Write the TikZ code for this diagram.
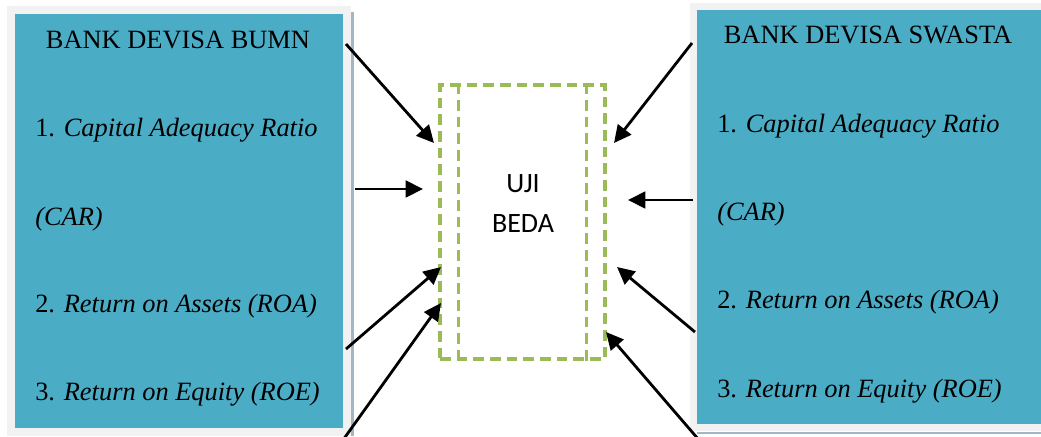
\documentclass[tikz,border=0pt]{standalone}
\usepackage{fontspec}
\setmainfont{Liberation Serif}
\newfontfamily\calibrifont{Carlito}
\usetikzlibrary{arrows.meta,positioning}
\definecolor{bankteal}{HTML}{4BACC6}
\definecolor{framegray}{HTML}{F2F2F2}
\definecolor{shadowblue}{HTML}{A3B7C2}
\definecolor{ujigreen}{HTML}{9BBB59}
\tikzset{
    %Define standard arrow tip
    >={Triangle[length=13pt,width=12.5pt]},
    %Define style for the bank boxes
    banknode/.style={
             rectangle,
             fill=bankteal,
             draw=framegray,
             inner sep=0pt},
    %Define style for the texts in the boxes
    titlenode/.style={
             anchor=base,
             inner sep=0pt,
             font=\fontsize{19.8}{24}\selectfont},
    itemnode/.style={
             anchor=base west,
             inner sep=0pt,
             font=\fontsize{19.8}{24}\selectfont},
    %Define style for the test box
    testline/.style={
             draw=ujigreen, line width=2.6pt,
             dash pattern=on 8pt off 4.5pt},
    testnode/.style={
             rectangle,
             testline,
             inner sep=0pt},
    % Define arrow style
    testarrow/.style={
            ->,
            line width=2.1pt}
}
\begin{document}
\begin{tikzpicture}[x=0.75pt,y=-0.75pt]
 \useasboundingbox (0,0) rectangle (1041,436);
 \fill[white] (0,0) rectangle (1041,436);
 % left box
 \node[banknode, line width=6pt, minimum width=252pt, minimum height=316.5pt] (bumn) at (179,221) {};
 \draw[shadowblue, line width=1.8pt] (352.5,12) -- (352.5,436);
 \node[titlenode] (bumntitle) at (178,48) {BANK DEVISA BUMN};
 \node[itemnode] (bumncar) at (35,136) {1. \textit{Capital Adequacy Ratio}};
 \node[itemnode] (bumncarb) at (35,225) {\textit{(CAR)}};
 \node[itemnode] (bumnroa) at (35,312) {2. \textit{Return on Assets (ROA)}};
 \node[itemnode] (bumnroe) at (35,400) {3. \textit{Return on Equity (ROE)}};
 % right box
 \node[banknode, line width=5.25pt, minimum width=266.25pt, minimum height=315.75pt] (swasta) at (871,217) {};
 \draw[shadowblue, line width=1.8pt] (697,433) -- (1045,433);
 \node[titlenode] (swastatitle) at (868,43) {BANK DEVISA SWASTA};
 \node[itemnode] (swastacar) at (717,132) {1. \textit{Capital Adequacy Ratio}};
 \node[itemnode] (swastacarb) at (717,220) {\textit{(CAR)}};
 \node[itemnode] (swastaroa) at (717,308) {2. \textit{Return on Assets (ROA)}};
 \node[itemnode] (swastaroe) at (717,397) {3. \textit{Return on Equity (ROE)}};
 % test box
 \node[testnode, minimum width=123.75pt, minimum height=205.5pt] (uji) at (522.5,222) {};
 \draw[testline]
       ([xshift=15pt]uji.north west) -- ([xshift=15pt]uji.south west)
       ([xshift=-15pt]uji.north east) -- ([xshift=-15pt]uji.south east);
 \node[font=\calibrifont\fontsize{21}{30}\selectfont, align=center] (beda) at (523,204) {UJI\\BEDA};
 % arrows
 \coordinate (l1) at (346,44);   \coordinate (l1e) at (434,143);
 \coordinate (l2) at (355,189);  \coordinate (l2e) at (423,189);
 \coordinate (l3) at (346,349);  \coordinate (l3e) at (441,267);
 \coordinate (l4) at (343,440);  \coordinate (l4e) at (441,303);
 \coordinate (r1) at (692,43);   \coordinate (r1e) at (614,143);
 \coordinate (r2) at (693,200);  \coordinate (r2e) at (628,200);
 \coordinate (r3) at (695,332);  \coordinate (r3e) at (617,267);
 \coordinate (r4) at (699,440);  \coordinate (r4e) at (606,332);
 \foreach \a/\b in {l1/l1e,l2/l2e,l3/l3e,l4/l4e,r1/r1e,r2/r2e,r3/r3e,r4/r4e}
   \draw[testarrow] (\a) -- (\b);
\end{tikzpicture}
\end{document}
